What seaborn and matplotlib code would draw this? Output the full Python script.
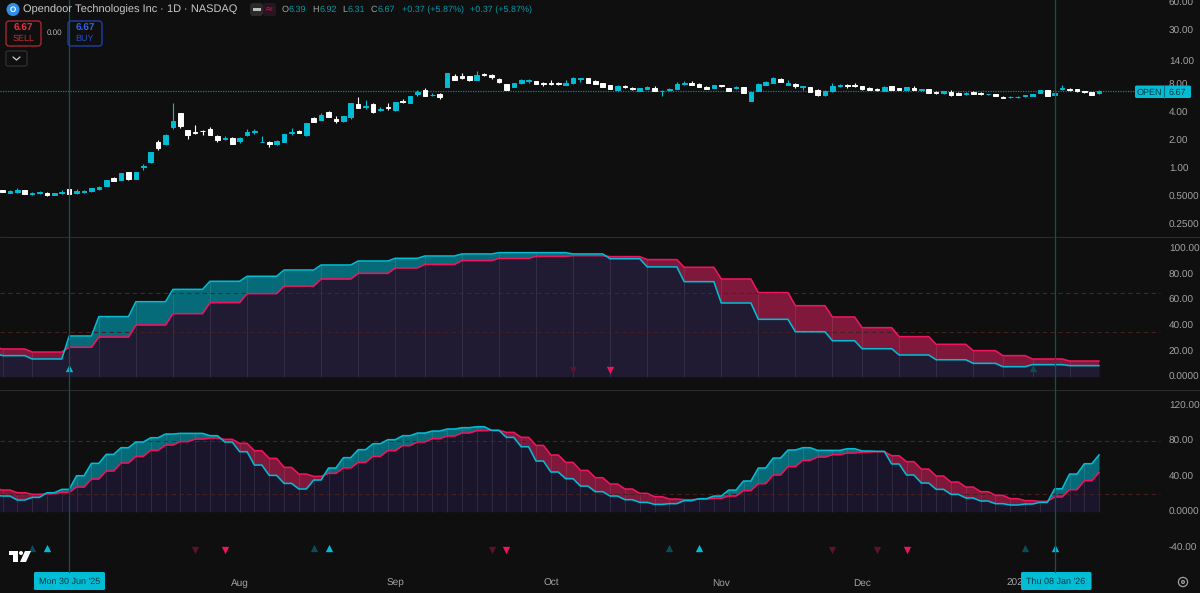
import numpy as np
import pandas as pd
import matplotlib
matplotlib.use("Agg")
import matplotlib.pyplot as plt
from matplotlib.patches import FancyBboxPatch, Polygon, Circle, Rectangle
from matplotlib.ticker import NullLocator
import seaborn as sns

# ---------- data ----------
candle_open = [.575,.543,.552,.58,.53,.543,.543,.512,.534,.59,.534,.557,.561,.59,.645,.78,.743,.898,.768,1.02,
 1.17,1.89,1.83,2.74,3.87,2.54,2.44,2.52,2.65,2.23,2.07,2.12,1.93,2.25,2.44,1.89,1.92,1.80,1.90,2.40,
 2.48,2.25,3.42,3.28,4.03,3.39,3.18,3.50,4.92,4.56,4.92,4.24,4.53,4.17,5.25,5.04,6.30,6.95,6.04,6.30,
 7.49,9.76,9.68,9.68,8.83,10.2,9.91,8.97,7.93,7.49,8.19,8.6,8.55,8.13,8.25,8.13,
 7.87,8.13,9.13,9.22,8.6,8.13,7.80,6.89,7.67,7.30,6.78,7.07,7.30,6.67,6.84,7.11,7.93,8.25,8.0,7.42,7.30,7.72,7.25,7.18,7.35,5.25,6.72,7.8,8.25,8.97,7.87,8.0,7.49,7.35,6.84,6.04,6.67,7.55,7.87,7.87,7.55,7.18,7.0,6.78,7.55,7.25,6.89,7.25,6.89,7.0,6.56,6.35,6.61,6.35,6.25,6.56,6.4,6.2,6.25,5.85,5.75,5.75,5.9,5.99,6.4,6.84,6.15,7.0,7.07,7.0,6.67,6.56,6.39]
candle_close = [.552,.571,.585,.526,.539,.552,.508,.539,.557,.526,.571,.571,.61,.625,.738,.73,.883,.768,.905,1.05,
 1.47,1.64,2.25,3.20,2.85,2.25,2.40,2.48,2.28,2.02,2.12,1.81,2.12,2.44,2.50,1.92,1.83,1.95,2.32,2.46,
 2.38,3.05,3.15,3.74,3.56,3.18,3.62,5.0,4.45,4.64,3.97,4.31,4.42,5.12,5.17,5.90,6.50,5.99,6.09,5.75,
 10.5,8.90,9.36,8.75,9.91,9.91,9.44,8.32,6.95,8.19,8.9,8.75,8.06,8.0,8.06,8.0,
 8.13,9.22,9.3,8.25,8.0,7.42,7.11,7.67,7.35,7.0,7.18,7.42,6.72,6.72,7.07,8.0,8.25,7.87,7.49,7.11,7.80,7.55,6.78,7.35,6.4,6.5,8.0,8.47,9.36,8.47,8.13,7.6,7.6,6.56,6.04,6.72,7.67,7.80,7.6,7.6,7.0,6.95,6.89,7.49,6.95,6.89,7.42,6.89,7.0,6.45,6.45,6.72,6.04,6.09,6.35,6.30,6.25,6.25,5.95,5.7,5.8,5.85,6.09,6.25,6.89,5.99,6.35,7.18,6.84,6.67,6.5,6.15,6.67]
candle_high = [.578,.575,.605,.585,.552,.566,.548,.543,.585,.595,.60,.585,.615,.64,.745,.80,.89,.90,.91,1.10,
 1.48,2.0,2.30,4.96,3.92,2.58,2.88,2.56,2.74,2.28,2.23,2.14,2.17,2.60,2.60,2.23,1.93,1.98,2.34,2.70,
 2.56,3.08,3.50,3.94,4.07,3.62,3.66,5.05,5.80,5.38,4.96,4.49,4.96,5.17,5.47,5.95,6.84,7.18,6.45,6.35,
 10.6,10.2,10.5,9.75,10.95,10.4,10.2,9.3,8.0,8.25,9.13,8.97,8.6,8.4,8.8,8.4,
 8.83,9.4,9.35,9.35,8.8,8.2,7.87,7.72,7.85,7.49,7.25,7.55,7.6,6.95,7.2,8.5,8.6,8.6,8.2,7.55,7.87,7.85,7.3,7.6,7.42,6.55,8.1,8.55,9.45,9.25,8.8,8.1,7.7,7.42,7.0,6.95,8.2,7.95,8.0,8.3,7.6,7.4,7.2,7.55,7.6,7.3,7.5,7.7,7.1,7.1,6.7,6.8,6.9,6.5,6.5,6.8,6.6,6.3,6.3,6.0,5.95,5.95,6.15,6.3,6.95,6.9,6.4,7.75,7.25,7.05,6.72,6.6,6.92]
candle_low = [.55,.54,.543,.52,.512,.526,.505,.51,.53,.522,.53,.543,.555,.58,.64,.725,.74,.74,.765,.95,
 1.14,1.55,1.75,2.60,2.70,2.05,2.32,2.28,2.26,1.90,1.98,1.79,1.87,2.21,2.32,1.88,1.70,1.78,1.88,2.25,
 2.36,2.23,3.12,3.25,3.53,3.05,3.15,3.39,4.40,4.31,3.94,4.09,4.17,4.12,4.96,5.0,5.99,5.95,5.95,5.52,
 7.42,8.85,9.13,8.70,8.75,9.8,9.13,8.25,6.9,7.42,8.0,8.25,8.0,7.67,7.87,7.8,
 7.8,8.06,8.4,8.2,7.95,7.38,7.07,6.85,7.3,6.95,6.72,7.0,6.68,6.0,6.7,7.05,7.87,7.8,7.42,7.05,7.25,7.5,6.72,7.1,6.35,5.2,6.67,7.72,8.2,8.4,7.72,7.25,6.9,6.5,6.0,6.0,6.6,7.5,7.3,7.4,6.95,6.9,6.8,6.72,6.9,6.85,6.85,6.85,6.7,6.4,6.3,6.3,6.0,6.05,6.1,6.25,6.1,6.15,5.9,5.65,5.7,5.7,5.85,5.95,6.35,5.95,6.1,6.95,6.8,6.6,6.45,6.1,6.31]
first_candle = -9

slow_starts = [-10,-9,-5,0,4,9,14,19,24,29,34,39,44,48,53,58,63,68,73,78,83,88,93,98,103,107,112,117,122,126,130,135]
slow_k = [18.2,16.4,13.8,31.7,46.8,58.4,68,74.3,78.2,83.1,87,90.1,92.2,94,95.6,96.6,96.6,95.6,91.9,85.5,74,57.4,44.7,35,28,21.8,16.9,13.2,10.4,7.8,9.4,8.6]
slow_d = [22.9,21.6,19.2,22.9,30.9,40.3,49.1,57.7,64.7,70.6,76.1,80.5,84.7,87.5,90.4,92.2,93.8,94.3,93.5,91.2,85.2,76.1,65.5,55.3,46.5,38.2,31.2,25.2,20.3,16.4,13.8,12.2]

fast_k = [18.4,17.6,13.1,16.1,21.3,25.1,40.4,54.3,64.4,71.9,78.3,83.1,87.3,88,88,85.4,78.3,67.4,52.4,40.8,31.8,25.5,35.6,49.1,60.7,69.7,76.4,80.9,85.4,88.4,90.6,92.9,94.4,95.5,91.4,83.5,73,56.9,44.6,37.1,28.8,22.5,
 17.6,13.5,10.5,8.2,9,12.4,14.6,17.6,24.3,34.5,49.1,60.3,69.3,71.9,68.9,68.9,70.8,68.2,67.8,53.6,41.2,32.2,25.1,19.5,15.4,12,9,7.5,8.6,10.5,25.8,42.3,53.9,64]
fast_d = [26.2,24.3,21.3,19.5,20.2,21.7,27.7,36.7,45.7,54.7,62.2,68.9,74.9,78.7,81.6,82.8,81.3,76.8,68.5,59.9,49.8,42.3,39.7,43.1,49.1,55.4,62.2,68.5,74.2,78.3,82,85,88.4,91,91.4,89.1,83.5,74.5,63.7,55.4,46.4,38.2,
 31.1,25.5,20.6,16.9,14.2,13.5,14.2,15,17.6,23.6,31.5,41.2,50.6,57.7,61.4,64,65.9,67,67.4,62.9,56.2,47.9,40.1,33.3,27.7,22.5,18.4,14.6,12.4,11.6,16.5,24.7,34.8,44.2]

signals_slow = pd.DataFrame({"bar":[0,68,73,130], "level":[7,5.2,5.2,6.5],
                             "kind":["up","down","down","up"], "faded":[False,True,False,True]})
signals_fast = pd.DataFrame({"bar":[-5,-3,33,35,81,85,129,133,17,21,57,59,103,109,113],
                             "level":[-41]*8+[-43]*7,
                             "kind":["up"]*8+["down"]*7,
                             "faded":[True,False,True,False,True,False,True,False,True,False,True,False,True,True,False]})

price_ticks = [0.25,0.5,1,2,4,8,14,30,60]
price_labels = ["0.2500","0.5000","1.00","2.00","4.00","8.00","14.00","30.00","60.00"]
slow_ticks = [0,20,40,60,80,100]
slow_labels = ["0.0000","20.00","40.00","60.00","80.00","100.00"]
fast_ticks = [-40,0,40,80,120]
fast_labels = ["-40.00","0.0000","40.00","80.00","120.00"]
month_bars = [23,44,65,88,107,128]
month_labels = ["Aug","Sep","Oct","Nov","Dec","2026"]
cursor_bars = [0,133]
last_open = 6.67
# -------------------------------------------------

BG="#0f0f0f"; CY="#00bcd4"; PK="#f0145f"; TEAL="#066b78"; CRIM="#80183b"
TXT="#a3a3a3"; SEP="#2b2b2b"; CROSS="#124f5a"

sns.set_theme(style="dark", rc={"axes.facecolor":BG,"figure.facecolor":BG,"savefig.facecolor":BG,
    "axes.grid":False,"xtick.bottom":False,"ytick.left":False})
plt.rcParams["font.family"]=["Liberation Sans","DejaVu Sans"]
plt.rcParams["text.hinting"]="no_hinting"
plt.rcParams["text.hinting_factor"]=1

W,H=1200,593
fig=plt.figure(figsize=(12,5.93),dpi=100)
PX0=69.2; STEP=7.41; PLOT_R=1163
XL=(-PX0/STEP,(PLOT_R-PX0)/STEP)

def axes_px(top,bottom):
    return fig.add_axes([0,1-bottom/H,PLOT_R/W,(bottom-top)/H])

def clean(ax,ticks,labels):
    for s in ax.spines.values(): s.set_visible(False)
    ax.set_xlim(*XL)
    ax.yaxis.tick_right()
    ax.set_yticks(ticks); ax.set_yticklabels(labels)
    ax.yaxis.set_minor_locator(NullLocator())
    ax.tick_params(axis="y",length=0,pad=4.3,labelsize=6.9,labelcolor=TXT)
    ax.tick_params(axis="x",length=0)
    ax.set_xlabel(""); ax.set_ylabel("")

# price panel
ax0=axes_px(0,236)
ax0.set_yscale("log",base=2)
ax0.set_ylim(2**(-68/28),2**6)
bars=np.arange(len(candle_open))+first_candle
o=np.array(candle_open);c=np.array(candle_close);hi=np.array(candle_high);lo=np.array(candle_low)
cols=[CY if b>=a else "#ffffff" for a,b in zip(o,c)]
ax0.vlines(bars,lo,hi,colors=cols,linewidth=0.8,zorder=3)
ax0.bar(bars,np.abs(c-o),bottom=np.minimum(o,c),width=0.62,color=cols,edgecolor=cols,linewidth=0.7,zorder=4)
ax0.hlines(last_open,XL[0],(1135-PX0)/STEP,colors="#0e7f8e",linewidth=0.9,linestyles=(0,(1,1)),zorder=2)
clean(ax0,price_ticks,price_labels)
ax0.set_xticks([])

def stoch(ax,starts,k,d,idx,hlines,ticks,labels,ymin,ymax,sig,purple):
    starts=np.array(starts);k=np.array(k);d=np.array(d)
    pick=np.searchsorted(starts,idx,side="right")-1
    kk=k[pick];dd=d[pick]
    ax.set_ylim(ymin,ymax)
    ax.fill_between(idx,0,np.minimum(kk,dd),color=purple,linewidth=0,zorder=1)
    ax.fill_between(idx,kk,dd,where=kk>=dd,interpolate=True,color=TEAL,linewidth=0,zorder=1)
    ax.fill_between(idx,kk,dd,where=kk<=dd,interpolate=True,color=CRIM,linewidth=0,zorder=1)
    vis=starts[starts>=first_candle]
    tk=k[starts>=first_candle];td=d[starts>=first_candle]
    ax.vlines(vis,0,np.maximum(tk,td),colors="#ffffff",alpha=0.09,linewidth=0.8,zorder=2)
    for val,col in hlines:
        ax.hlines(val,XL[0],XL[1]-0.4,colors=col,linewidth=0.8,linestyles=(0,(4,3)),zorder=2)
    df=pd.DataFrame({"bar":idx,"k":kk,"d":dd})
    sns.lineplot(data=df,x="bar",y="d",ax=ax,color=PK,linewidth=1.15,estimator=None,zorder=3)
    sns.lineplot(data=df,x="bar",y="k",ax=ax,color=CY,linewidth=1.15,estimator=None,zorder=4)
    for kind,mk in (("up","^"),("down","v")):
        for faded,col_up,col_dn in ((False,CY,PK),(True,"#0b4c57","#5a1330")):
            part=sig[(sig.kind==kind)&(sig.faded==faded)]
            if len(part):
                sns.scatterplot(data=part,x="bar",y="level",ax=ax,marker=mk,s=28,linewidth=0,
                                color=col_up if kind=="up" else col_dn,zorder=5,legend=False)
    clean(ax,ticks,labels)

# slow oscillator
ax1=axes_px(237,389)
idx1=np.arange(-10,140)
stoch(ax1,slow_starts,slow_k,slow_d,idx1,[(65,"#1f3a28"),(35,"#41201f")],slow_ticks,slow_labels,
      (376.7-389)/1.284,(376.7-237)/1.284,signals_slow,"#201a33")
ax1.set_xticks([])

# fast oscillator
ax2=axes_px(390,570)
idx2=np.arange(-11,140)
fast_starts=np.arange(-11,140,2)
stoch(ax2,fast_starts,fast_k,fast_d,idx2,[(80,"#1f3a28"),(20,"#41201f")],fast_ticks,fast_labels,
      (511.7-570)/0.89,(511.7-390)/0.89,signals_fast,"#1b152c")
ax2.set_xticks(month_bars); ax2.set_xticklabels(month_labels,va="baseline")
ax2.tick_params(axis="x",labelsize=6.9,labelcolor=TXT,pad=11.3)

# full-figure overlay for chart furniture
ov=fig.add_axes([0,0,1,1],facecolor="none")
ov.set_xlim(0,W);ov.set_ylim(H,0);ov.axis("off")
for y in (237,390):
    ov.plot([0,W],[y,y],color=SEP,lw=0.8)
for b in cursor_bars:
    xp=PX0+STEP*b
    ov.plot([xp,xp],[0,572],color=CROSS,lw=0.9)

def box(x0,y0,x1,y1,fc,ec="none",r=2,lw=1,**kw):
    ov.add_patch(FancyBboxPatch((x0+r,y0+r),x1-x0-2*r,y1-y0-2*r,boxstyle=f"round,pad={r},rounding_size={r}",
                                fc=fc,ec=ec,lw=lw,**kw))
def tx(x,y,s,col=TXT,size=6.9,ha="left",**kw):
    ov.text(x,y,s,color=col,fontsize=size,ha=ha,va="center",**kw)

# header
ov.add_patch(Circle((13,9.5),6.5,fc="#2f8fe8",ec="none"))
tx(13,9.5,"O","#ffffff",5.5,ha="center",fontweight="bold")
tx(23,9.5,"Opendoor Technologies Inc · 1D · NASDAQ","#c9c9c9",8.1)
box(250,3,263,16,"#2a2a2a",r=3)
box(263,3,276,16,"#2a1420",r=3)
ov.add_patch(Rectangle((252.5,8),8,2.5,fc="#bdbdbd",ec="none"))
tx(269.5,9.5,"≈","#c2185b",7,ha="center",family=["DejaVu Sans"])
TC="#0097a7"; LAB="#a3a3a3"
for xl,xv,l,v in ((282,289,"O","6.39"),(312,319.5,"H","6.92"),(342,348,"L","6.31"),(371,378,"C","6.67")):
    tx(xl,9.5,l,LAB,6.6); tx(xv,9.5,v,TC,6.6)
tx(402,9.5,"+0.37 (+5.87%)",TC,6.6)
tx(470,9.5,"+0.37 (+5.87%)",TC,6.6)

# order boxes
box(6,21,41,46,BG,"#a92430",r=3)
tx(23.5,28.5,"6.67","#e5303f",7.0,ha="center",fontweight="bold")
tx(23.5,39,"SELL","#c92a37",6.2,ha="center")
tx(54,33,"0.00","#b5b5b5",5.8,ha="center")
box(68,21,102,46,BG,"#1f3fa6",r=3)
tx(85,28.5,"6.67","#2f62e6",7.0,ha="center",fontweight="bold")
tx(85,39,"BUY","#234fc4",6.2,ha="center")
box(6,51,27,66,BG,"#2e2e2e",r=2)
ov.plot([13,16.5,20],[57,60,57],color="#cfcfcf",lw=0.9)

# last-price label
box(1135,85.5,1191,98,CY,r=1.5)
ov.plot([1163.5,1163.5],[85.5,98],color="#0b6f7d",lw=0.8)
tx(1149,92.3,"OPEN","#053b44",6.6,ha="center")
tx(1177,92.3,"6.67","#053b44",6.6,ha="center")

# cursor date labels
box(34,572,105,590,CY,r=1.5)
tx(69.5,581.5,"Mon 30 Jun '25","#053b44",6.7,ha="center")
box(1021,572,1091.5,590,CY,r=1.5)
tx(1056,581.5,"Thu 08 Jan '26","#053b44",6.7,ha="center")

# TradingView logo
ov.add_patch(Polygon([(9,551),(18,551),(18,562),(13,562),(13,555),(9,555)],fc="#ffffff",ec="none"))
ov.add_patch(Circle((21,553),2.0,fc="#ffffff",ec="none"))
ov.add_patch(Polygon([(25,551),(31,551),(26,562),(20,562)],fc="#ffffff",ec="none"))

# settings glyph
ov.add_patch(Circle((1183,582),4.6,fc="none",ec="#a0a0a0",lw=0.9))
ov.add_patch(Circle((1183,582),1.4,fc="none",ec="#a0a0a0",lw=0.9))

fig.savefig("out.png",dpi=100)
